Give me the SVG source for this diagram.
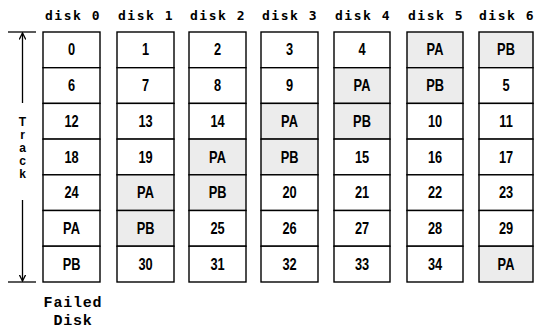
<svg xmlns="http://www.w3.org/2000/svg" width="535" height="331" viewBox="0 0 535 331">
<style>
.cell{fill:#fff;stroke:#000;stroke-width:1.4}
.sh{fill:#ececec;stroke:#000;stroke-width:1.4}
.t{font-family:"Liberation Sans","Arial",sans-serif;font-weight:bold;font-size:16px;text-anchor:middle;fill:#000}
.h{font-family:"DejaVu Sans Mono","Liberation Mono",monospace;font-weight:bold;font-size:13px;text-anchor:middle;fill:#000;letter-spacing:1.5px}
.f{font-family:"Liberation Mono","DejaVu Sans Mono",monospace;font-weight:bold;font-size:15px;text-anchor:middle;fill:#000;letter-spacing:0.8px}
.tr{font-family:"Liberation Sans",sans-serif;font-weight:bold;font-size:12px;text-anchor:middle;fill:#000}
.ln{stroke:#000;stroke-width:1.3;fill:none}
</style>
<defs>
<marker id="ah" viewBox="0 0 6 6" refX="5" refY="3" markerWidth="6" markerHeight="6" orient="auto"><path d="M0,0.5 L5,3 L0,5.5" fill="none" stroke="#000" stroke-width="1"/></marker>
</defs>
<g id="headers">
<text class="h" x="73" y="20">disk 0</text>
<text class="h" x="146" y="20">disk 1</text>
<text class="h" x="218" y="20">disk 2</text>
<text class="h" x="290" y="20">disk 3</text>
<text class="h" x="363" y="20">disk 4</text>
<text class="h" x="436" y="20">disk 5</text>
<text class="h" x="507" y="20">disk 6</text>
</g>
<g id="track" class="ln">
<line x1="8" y1="32" x2="36" y2="32"/>
<line x1="8" y1="282" x2="36" y2="282"/>
<line x1="22.5" y1="103" x2="22.5" y2="33" marker-end="url(#ah)"/>
<line x1="22.5" y1="200" x2="22.5" y2="281" marker-end="url(#ah)"/>
</g>
<g id="tracklabel">
<text class="tr" x="22.5" y="126">T</text>
<text class="tr" x="22.5" y="139">r</text>
<text class="tr" x="22.5" y="152">a</text>
<text class="tr" x="22.5" y="165">c</text>
<text class="tr" x="22.5" y="178">k</text>
</g>
<g id="disk0">
<rect class="cell" x="43" y="32" width="57" height="35.7"/>
<rect class="cell" x="43" y="67.7" width="57" height="35.7"/>
<rect class="cell" x="43" y="103.4" width="57" height="35.7"/>
<rect class="cell" x="43" y="139.1" width="57" height="35.7"/>
<rect class="cell" x="43" y="174.8" width="57" height="35.7"/>
<rect class="cell" x="43" y="210.5" width="57" height="35.7"/>
<rect class="cell" x="43" y="246.2" width="57" height="35.8"/>
<g transform="scale(0.8,1)">
<text class="t" x="89.4" y="55.5">0</text>
<text class="t" x="89.4" y="91.2">6</text>
<text class="t" x="89.4" y="126.9">12</text>
<text class="t" x="89.4" y="162.6">18</text>
<text class="t" x="89.4" y="198.3">24</text>
<text class="t" x="89.4" y="234">PA</text>
<text class="t" x="89.4" y="269.7">PB</text>
</g>
</g>
<g id="disk1">
<rect class="cell" x="117" y="32" width="57" height="35.7"/>
<rect class="cell" x="117" y="67.7" width="57" height="35.7"/>
<rect class="cell" x="117" y="103.4" width="57" height="35.7"/>
<rect class="cell" x="117" y="139.1" width="57" height="35.7"/>
<rect class="sh" x="117" y="174.8" width="57" height="35.7"/>
<rect class="sh" x="117" y="210.5" width="57" height="35.7"/>
<rect class="cell" x="117" y="246.2" width="57" height="35.8"/>
<g transform="scale(0.8,1)">
<text class="t" x="181.9" y="55.5">1</text>
<text class="t" x="181.9" y="91.2">7</text>
<text class="t" x="181.9" y="126.9">13</text>
<text class="t" x="181.9" y="162.6">19</text>
<text class="t" x="181.9" y="198.3">PA</text>
<text class="t" x="181.9" y="234">PB</text>
<text class="t" x="181.9" y="269.7">30</text>
</g>
</g>
<g id="disk2">
<rect class="cell" x="189" y="32" width="57" height="35.7"/>
<rect class="cell" x="189" y="67.7" width="57" height="35.7"/>
<rect class="cell" x="189" y="103.4" width="57" height="35.7"/>
<rect class="sh" x="189" y="139.1" width="57" height="35.7"/>
<rect class="sh" x="189" y="174.8" width="57" height="35.7"/>
<rect class="cell" x="189" y="210.5" width="57" height="35.7"/>
<rect class="cell" x="189" y="246.2" width="57" height="35.8"/>
<g transform="scale(0.8,1)">
<text class="t" x="271.9" y="55.5">2</text>
<text class="t" x="271.9" y="91.2">8</text>
<text class="t" x="271.9" y="126.9">14</text>
<text class="t" x="271.9" y="162.6">PA</text>
<text class="t" x="271.9" y="198.3">PB</text>
<text class="t" x="271.9" y="234">25</text>
<text class="t" x="271.9" y="269.7">31</text>
</g>
</g>
<g id="disk3">
<rect class="cell" x="261" y="32" width="57" height="35.7"/>
<rect class="cell" x="261" y="67.7" width="57" height="35.7"/>
<rect class="sh" x="261" y="103.4" width="57" height="35.7"/>
<rect class="sh" x="261" y="139.1" width="57" height="35.7"/>
<rect class="cell" x="261" y="174.8" width="57" height="35.7"/>
<rect class="cell" x="261" y="210.5" width="57" height="35.7"/>
<rect class="cell" x="261" y="246.2" width="57" height="35.8"/>
<g transform="scale(0.8,1)">
<text class="t" x="361.9" y="55.5">3</text>
<text class="t" x="361.9" y="91.2">9</text>
<text class="t" x="361.9" y="126.9">PA</text>
<text class="t" x="361.9" y="162.6">PB</text>
<text class="t" x="361.9" y="198.3">20</text>
<text class="t" x="361.9" y="234">26</text>
<text class="t" x="361.9" y="269.7">32</text>
</g>
</g>
<g id="disk4">
<rect class="cell" x="334" y="32" width="56" height="35.7"/>
<rect class="sh" x="334" y="67.7" width="56" height="35.7"/>
<rect class="sh" x="334" y="103.4" width="56" height="35.7"/>
<rect class="cell" x="334" y="139.1" width="56" height="35.7"/>
<rect class="cell" x="334" y="174.8" width="56" height="35.7"/>
<rect class="cell" x="334" y="210.5" width="56" height="35.7"/>
<rect class="cell" x="334" y="246.2" width="56" height="35.8"/>
<g transform="scale(0.8,1)">
<text class="t" x="452.5" y="55.5">4</text>
<text class="t" x="452.5" y="91.2">PA</text>
<text class="t" x="452.5" y="126.9">PB</text>
<text class="t" x="452.5" y="162.6">15</text>
<text class="t" x="452.5" y="198.3">21</text>
<text class="t" x="452.5" y="234">27</text>
<text class="t" x="452.5" y="269.7">33</text>
</g>
</g>
<g id="disk5">
<rect class="sh" x="407" y="32" width="56" height="35.7"/>
<rect class="sh" x="407" y="67.7" width="56" height="35.7"/>
<rect class="cell" x="407" y="103.4" width="56" height="35.7"/>
<rect class="cell" x="407" y="139.1" width="56" height="35.7"/>
<rect class="cell" x="407" y="174.8" width="56" height="35.7"/>
<rect class="cell" x="407" y="210.5" width="56" height="35.7"/>
<rect class="cell" x="407" y="246.2" width="56" height="35.8"/>
<g transform="scale(0.8,1)">
<text class="t" x="543.8" y="55.5">PA</text>
<text class="t" x="543.8" y="91.2">PB</text>
<text class="t" x="543.8" y="126.9">10</text>
<text class="t" x="543.8" y="162.6">16</text>
<text class="t" x="543.8" y="198.3">22</text>
<text class="t" x="543.8" y="234">28</text>
<text class="t" x="543.8" y="269.7">34</text>
</g>
</g>
<g id="disk6">
<rect class="sh" x="479" y="32" width="54" height="35.7"/>
<rect class="cell" x="479" y="67.7" width="54" height="35.7"/>
<rect class="cell" x="479" y="103.4" width="54" height="35.7"/>
<rect class="cell" x="479" y="139.1" width="54" height="35.7"/>
<rect class="cell" x="479" y="174.8" width="54" height="35.7"/>
<rect class="cell" x="479" y="210.5" width="54" height="35.7"/>
<rect class="sh" x="479" y="246.2" width="54" height="35.8"/>
<g transform="scale(0.8,1)">
<text class="t" x="632.5" y="55.5">PB</text>
<text class="t" x="632.5" y="91.2">5</text>
<text class="t" x="632.5" y="126.9">11</text>
<text class="t" x="632.5" y="162.6">17</text>
<text class="t" x="632.5" y="198.3">23</text>
<text class="t" x="632.5" y="234">29</text>
<text class="t" x="632.5" y="269.7">PA</text>
</g>
</g>
<g id="failed">
<text class="f" x="73" y="307">Failed</text>
<text class="f" x="73" y="325">Disk</text>
</g>
</svg>
